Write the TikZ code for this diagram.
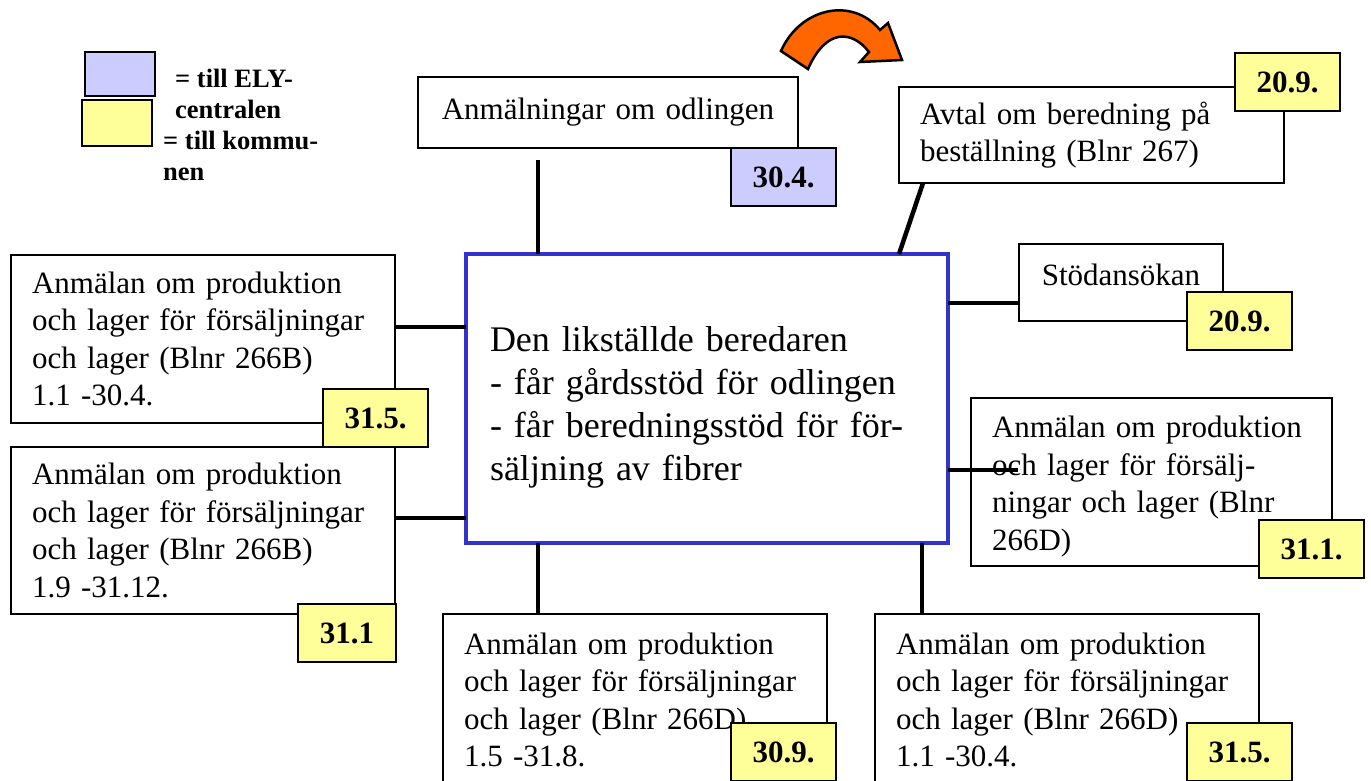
\documentclass[tikz,border=0pt]{standalone}
\usepackage{fontspec}
\setmainfont{Liberation Serif}
\usepackage{tikz}
\definecolor{elyBlue}{rgb}{0.8,0.8,1}
\definecolor{kommunYellow}{rgb}{1,1,0.6}
\definecolor{frameBlue}{rgb}{0.2,0.2,0.8}
\definecolor{arrowOrange}{rgb}{1,0.4,0}

\begin{document}
\begin{tikzpicture}[x=1pt,y=-1pt]
 \tikzset{
  formBox/.style={draw, line width=1.6pt, fill=white, anchor=north west, outer sep=0pt, inner xsep=21pt, inner ysep=0pt, align=left, font=\fontsize{31}{37.5}\selectfont},
  dateBox/.style={draw, line width=1.6pt, anchor=north west, outer sep=0pt, inner sep=0pt, minimum width=105pt, minimum height=58pt, font=\bfseries\fontsize{31}{37.5}\selectfont},
  legendText/.style={anchor=north west, inner sep=0pt, align=left, font=\bfseries\fontsize{26.5}{31}\selectfont},
  link/.style={line width=4.5pt}
  }
  \useasboundingbox (0,0) rectangle (1371,780);
  \clip (0,0) rectangle (1371,780);

  % legend
  \node[dateBox, fill=elyBlue, minimum width=70pt, minimum height=44pt] (legEly) at (85,52) {};
  \node[dateBox, fill=kommunYellow, minimum width=70pt, minimum height=46pt] (legKommun) at (82,100) {};
  \node[legendText] (tEly) at (175,69) {= till ELY-\\centralen};
  \node[legendText] (tKommun) at (163,131) {= till kommu-\\nen};

  % the orange arrow
  \draw[line width=2.5pt, fill=arrowOrange] (781,51) .. controls (800,8) and (852,-4) .. (880,30)
    -- (888,23) -- (902,60) -- (860,62) -- (869,52) .. controls (852,30) and (826,28) .. (808,69) -- cycle;

  % the big box
  \node[draw=frameBlue, line width=4.5pt, fill=white, anchor=north west, outer sep=0pt, inner xsep=24pt, inner ysep=0pt,
    text width=434pt, minimum height=289pt, align=left, font=\fontsize{36}{43}\selectfont] (centre) at (466,254)
    {\rule{0pt}{43pt}Den likställde beredaren\\- får gårdsstöd för odlingen\\- får beredningsstöd för för-\\säljning av fibrer};

  % forms
  \node[formBox, align=center, inner xsep=4pt, text width=372pt, minimum height=71pt] (odling) at (418,77) {Anmälningar om odlingen};
  \node[formBox, text width=343pt, minimum height=96pt] (avtal) at (899,87) {Avtal om beredning på\\beställning (Blnr 267)};
  \node[formBox, align=center, inner xsep=4pt, text width=196pt, minimum height=77pt] (stod) at (1019,244) {Stödansökan\rule[-15pt]{0pt}{0pt}};
  \node[formBox, text width=319pt, minimum height=168pt] (ferD) at (971,398)
    {\rule{0pt}{31pt}Anmälan om produktion\\och lager för försälj-\\ningar och lager (Blnr\\266D)};
  \node[formBox, text width=342pt, minimum height=168pt] (lagerB1) at (11,255)
    {Anmälan om produktion\\och lager för försäljningar\\och lager (Blnr 266B)\\1.1 -30.4.};
  \node[formBox, text width=342pt, minimum height=167pt] (lagerB2) at (11,447)
    {Anmälan om produktion\\och lager för försäljningar\\och lager (Blnr 266B)\\1.9 -31.12.};
  \node[formBox, text width=342pt, minimum height=172pt] (lagerD1) at (443,614)
    {Anmälan om produktion\\och lager för försäljningar\\och lager (Blnr 266D)\\1.5 -31.8.};
  \node[formBox, text width=342pt, minimum height=172pt] (lagerD2) at (875,614)
    {Anmälan om produktion\\och lager för försäljningar\\och lager (Blnr 266D)\\1.1 -30.4.};

  % connectors
  \coordinate (odlEnd) at (538,160);
  \coordinate (ferEnd) at (1018,470);
  \coordinate (stodLink) at ([yshift=-20.5pt]stod.west);
  \coordinate (b1Link) at ([yshift=12pt]lagerB1.east);
  \coordinate (b2Link) at ([yshift=12.5pt]lagerB2.east);
  \coordinate (d1Link) at ([xshift=95pt]lagerD1.north west);
  \coordinate (d2Link) at ([xshift=47pt]lagerD2.north west);
  \draw[link] (odlEnd) -- (odlEnd |- centre.north);
  \draw[link] ([xshift=24pt]avtal.south west) -- ([xshift=433pt]centre.north west);
  \draw[link] (stodLink -| centre.east) -- (stodLink);
  \draw[link] (ferEnd -| centre.east) -- (ferEnd);
  \draw[link] (b1Link) -- (b1Link -| centre.west);
  \draw[link] (b2Link) -- (b2Link -| centre.west);
  \draw[link] (d1Link |- centre.south) -- (d1Link);
  \draw[link] (d2Link |- centre.south) -- (d2Link);

  % dates
  \node[dateBox, fill=elyBlue] (dOdling) at (731,148) {30.4.};
  \node[dateBox, fill=kommunYellow] (dAvtal) at (1235,53) {20.9.};
  \node[dateBox, fill=kommunYellow] (dStod) at (1187,292) {20.9.};
  \node[dateBox, fill=kommunYellow] (dFerD) at (1259,520) {31.1.};
  \node[dateBox, fill=kommunYellow] (dB1) at (323,389) {31.5.};
  \node[dateBox, fill=kommunYellow, minimum width=98pt] (dB2) at (298,604) {31.1};
  \node[dateBox, fill=kommunYellow] (dD1) at (731,723) {30.9.};
  \node[dateBox, fill=kommunYellow] (dD2) at (1187,723) {31.5.};
\end{tikzpicture}
\end{document}
